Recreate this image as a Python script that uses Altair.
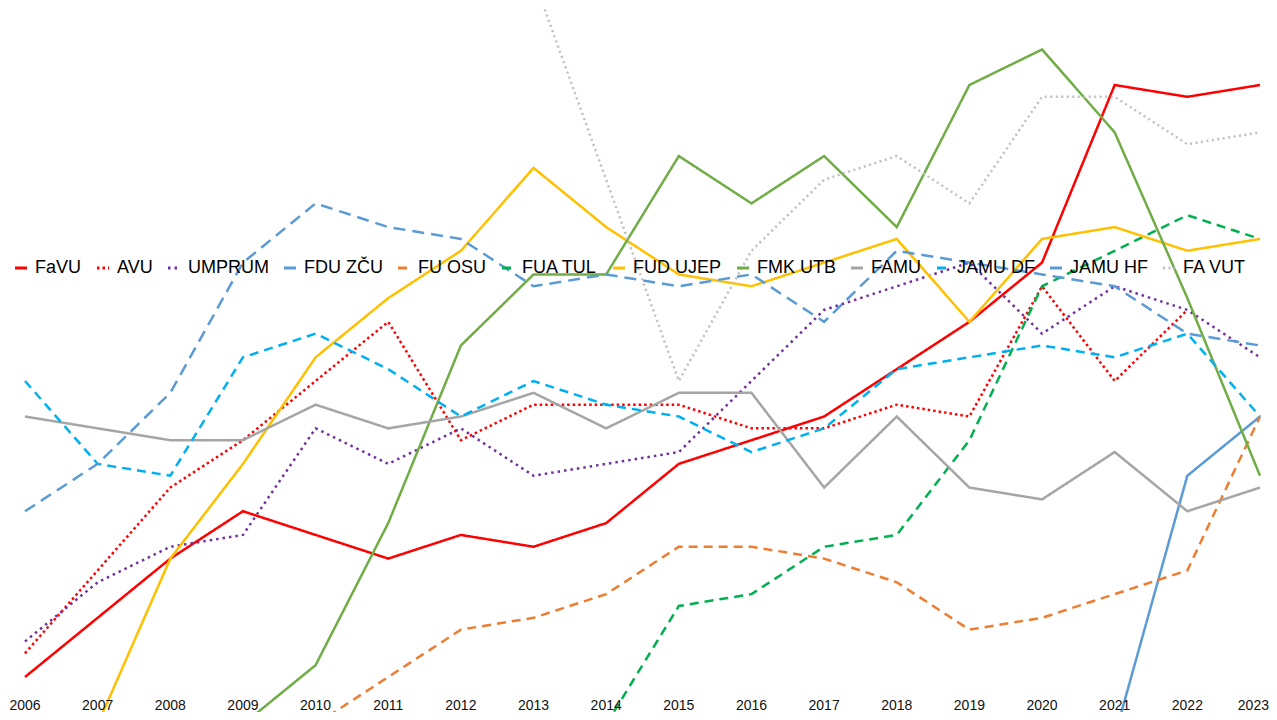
import altair as alt
import pandas as pd

years = list(range(2006, 2024))

series = ["FaVU", "AVU", "UMPRUM", "FDU ZČU", "FU OSU", "FUA TUL",
          "FUD UJEP", "FMK UTB", "FAMU", "JAMU DF", "JAMU HF", "FA VUT"]

N = None
favu    = [0, 5, 10, 14, 12, 10, 12, 11, 13, 18, 20, 22, 26, 30, 35, 50, 49, 50]
avu     = [2, 9, 16, 20, 25, 30, 20, 23, 23, 23, 21, 21, 23, 22, 33, 25, 31, N]
umprum  = [3, 8, 11, 12, 21, 18, 21, 17, 18, 19, 25, 31, 33, 35, 29, 33, 31, 27]
fdu_zcu = [N, N, N, N, N, N, N, N, N, N, N, N, N, N, N, -5, 17, 22]
fu_osu  = [N, N, N, N, -4, 0, 4, 5, 7, 11, 11, 10, 8, 4, 5, 7, 9, 22]
fua_tul = [N, N, N, N, N, N, N, N, -4, 6, 7, 11, 12, 20, 33, 36, 39, 37]
fud_ujep = [N, -4, 10, 18, 27, 32, 36, 43, 38, 34, 33, 35, 37, 30, 37, 38, 36, 37]
fmk_utb = [N, N, N, -4, 1, 13, 28, 34, 34, 44, 40, 44, 38, 50, 53, 46, 32, 17]
famu    = [22, 21, 20, 20, 23, 21, 22, 24, 21, 24, 24, 16, 22, 16, 15, 19, 14, 16]
jamu_df = [25, 18, 17, 27, 29, 26, 22, 25, 23, 22, 19, 21, 26, 27, 28, 27, 29, 22]
jamu_hf = [14, 18, 24, 35, 40, 38, 37, 33, 34, 33, 34, 30, 36, 35, 34, 33, 29, 28]
fa_vut  = [N, N, N, N, N, N, N, 59, 42, 25, 36, 42, 44, 40, 49, 49, 45, 46]

values = [favu, avu, umprum, fdu_zcu, fu_osu, fua_tul,
          fud_ujep, fmk_utb, famu, jamu_df, jamu_hf, fa_vut]

colors = ["#FF0000", "#FF0000", "#7030A0", "#5B9BD5", "#ED7D31", "#00B050",
          "#FFC000", "#70AD47", "#A5A5A5", "#00B0F0", "#5B9BD5", "#BFBFBF"]
dashes = [[1, 0], [2.5, 3], [2.5, 4], [1, 0], [9, 6], [9, 6],
          [1, 0], [1, 0], [1, 0], [9, 6], [12, 7], [2, 3.5]]

rows = []
for name, vals in zip(series, values):
    for y, v in zip(years, vals):
        if v is not None:
            rows.append({"school": name, "year": y, "value": v})
df = pd.DataFrame(rows)
df_years = pd.DataFrame({"year": years, "label": [str(y) for y in years]})
df_mid = df_years[df_years["year"] < years[-1]]
df_last = df_years[df_years["year"] == years[-1]]

W, H = 1261, 704
xscale = alt.Scale(domain=[2005.766, 2023.124], nice=False, zero=False)
yscale = alt.Scale(domain=[-2.956, 56.503], nice=False, zero=False)

lines = alt.Chart(df).mark_line(clip=True, strokeWidth=2.5, strokeCap="butt",
                                strokeJoin="miter").encode(
    x=alt.X("year:Q", scale=xscale, axis=None),
    y=alt.Y("value:Q", scale=yscale, axis=None),
    color=alt.Color("school:N", sort=series,
                    scale=alt.Scale(domain=series, range=colors),
                    legend=alt.Legend(
                        title=None, orient="none", legendX=4, legendY=251,
                        direction="horizontal", columns=12,
                        symbolType="stroke", symbolSize=144,
                        symbolStrokeWidth=3,
                        labelFont="Liberation Sans", labelFontSize=18,
                        labelColor="#000000", labelOffset=5,
                        columnPadding=9, labelLimit=300)),
    strokeDash=alt.StrokeDash("school:N", sort=series,
                              scale=alt.Scale(domain=series, range=dashes)),
    detail="school:N",
)

label_style = dict(font="Liberation Sans", fontSize=14, color="#111111",
                   baseline="alphabetic")

labels = alt.Chart(df_mid).mark_text(**label_style).encode(
    x=alt.X("year:Q", scale=xscale, axis=None),
    y=alt.value(702),
    text="label:N",
)
label_last = alt.Chart(df_last).mark_text(align="right", dx=9, **label_style).encode(
    x=alt.X("year:Q", scale=xscale, axis=None),
    y=alt.value(702),
    text="label:N",
)

chart = alt.layer(lines, labels, label_last).properties(
    width=W, height=H, padding=0, background="white",
    autosize=alt.AutoSizeParams(type="none"),
).configure_view(stroke=None)

chart.save("out.html", embed_options={"renderer": "svg", "actions": False})
